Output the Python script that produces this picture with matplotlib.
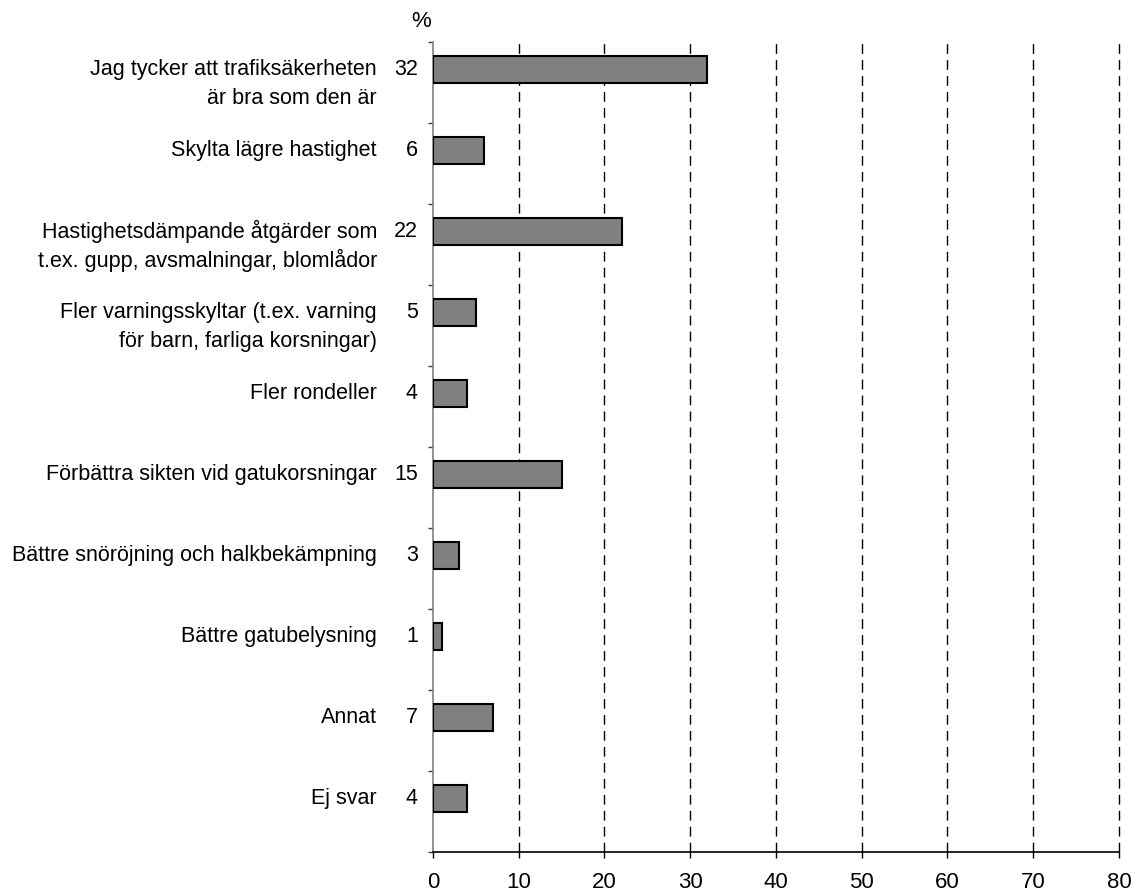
import numpy as np
import matplotlib
matplotlib.use('Agg')
from matplotlib import pyplot as plt

plt.rcParams['font.family'] = ['Liberation Sans', 'DejaVu Sans']

# data
categories = [
    ["Jag tycker att trafiksäkerheten", "är bra som den är"],
    ["Skylta lägre hastighet"],
    ["Hastighetsdämpande åtgärder som", "t.ex. gupp, avsmalningar, blomlådor"],
    ["Fler varningsskyltar (t.ex. varning", "för barn, farliga korsningar)"],
    ["Fler rondeller"],
    ["Förbättra sikten vid gatukorsningar"],
    ["Bättre snöröjning och halkbekämpning"],
    ["Bättre gatubelysning"],
    ["Annat"],
    ["Ej svar"],
]
values = [32, 6, 22, 5, 4, 15, 3, 1, 7, 4]
xticks = [0, 10, 20, 30, 40, 50, 60, 70, 80]

fs = 15.5
px = 72 / 100.0  # points per pixel

fig = plt.figure(figsize=(11.31, 8.91), dpi=100)
ax = fig.add_axes([0.3828, 0.0438, 0.9894 - 0.3828, 0.9529 - 0.0438])

n = len(values)
ypos = np.arange(n) + 0.34
ax.barh(ypos, values, height=0.33, color='#808080', edgecolor='black', linewidth=1.5, zorder=3)

ax.set_xlim(0, 80)
ax.set_ylim(n, 0)
ax.set_xticks(xticks)
ax.set_xticklabels([str(t) for t in xticks], fontsize=16)
ax.set_yticks(np.arange(n + 1))
ax.set_yticklabels([])
ax.tick_params(axis='x', direction='out', length=6 * px, width=1, pad=10)
ax.tick_params(axis='y', direction='out', length=5 * px, width=1, color='#404040')

for g in xticks[1:]:
    ax.axvline(g, color='black', linestyle=(0, (7, 4.5)), linewidth=1.0, zorder=1, clip_on=False)

for s in ['top', 'right']:
    ax.spines[s].set_visible(False)
ax.spines['left'].set_color('#808080')
ax.spines['left'].set_linewidth(1.2)
ax.spines['bottom'].set_linewidth(1.2)

for i, (lab, v) in enumerate(zip(categories, values)):
    y = ypos[i]
    ax.annotate(str(v), xy=(0, y), xytext=(-15 * px, 0), textcoords='offset points',
                ha='right', va='center', fontsize=fs)
    for k, line in enumerate(lab):
        ax.annotate(line, xy=(0, y), xytext=(-56 * px, -29 * px * k), textcoords='offset points',
                    ha='right', va='center', fontsize=fs)

ax.annotate('%', xy=(0, 0), xytext=(-12 * px, 20 * px), textcoords='offset points',
            ha='center', va='center', fontsize=16)

fig.savefig('out.png', dpi=100)
